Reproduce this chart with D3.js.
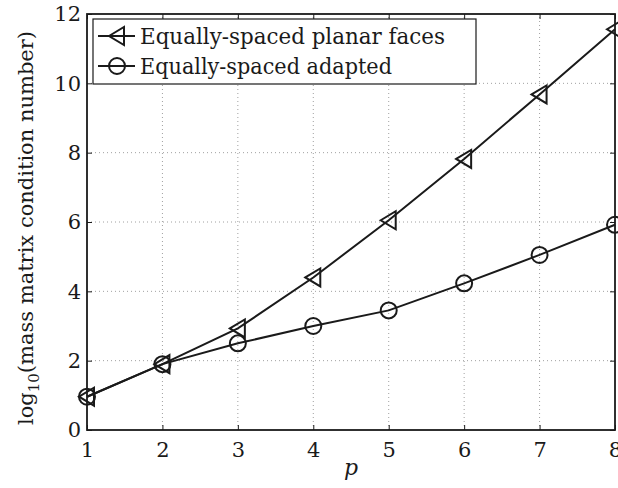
<meta charset="utf-8">
<style>body { margin: 0; } svg { display: block; }</style>
<svg width="618" height="488"></svg>
<script src="https://d3js.org/d3.v7.min.js"></script>
<script>
var pValues = [1, 2, 3, 4, 5, 6, 7, 8];
var planarFaces = [0.96, 1.9, 2.93, 4.4, 6.05, 7.82, 9.68, 11.56];
var adapted = [0.96, 1.9, 2.5, 3.0, 3.45, 4.23, 5.05, 5.92];
var xTicks = [1, 2, 3, 4, 5, 6, 7, 8];
var yTicks = [0, 2, 4, 6, 8, 10, 12];
var seriesNames = ["Equally-spaced planar faces", "Equally-spaced adapted"];

var svg = d3.select("svg"),
    margin = {top: 14, right: 3, bottom: 58, left: 87},
    width = +svg.attr("width"),
    height = +svg.attr("height");
var font = "DejaVu Serif";
var ink = "#1a1a1a";

svg.append("rect").attr("width", width).attr("height", height).attr("fill", "#fff");

var x = d3.scaleLinear().domain([1, 8]).range([margin.left, width - margin.right]);
var y = d3.scaleLinear().domain([0, 12]).range([height - margin.bottom, margin.top]);

// grid
svg.append("g").selectAll("line").data(xTicks.slice(1, -1)).enter().append("line")
  .attr("x1", function(d) { return x(d); }).attr("x2", function(d) { return x(d); })
  .attr("y1", y(0)).attr("y2", y(12))
  .attr("stroke", "#888").attr("stroke-width", 0.8).attr("stroke-dasharray", "1,3");
svg.append("g").selectAll("line").data(yTicks.slice(1, -1)).enter().append("line")
  .attr("y1", function(d) { return y(d); }).attr("y2", function(d) { return y(d); })
  .attr("x1", x(1)).attr("x2", x(8))
  .attr("stroke", "#888").attr("stroke-width", 0.8).attr("stroke-dasharray", "1,3");

// axes with inward ticks on all sides
function styleAxis(g) {
  g.attr("font-family", null).attr("font-size", null);
  g.select(".domain").remove();
  g.selectAll("line").attr("stroke", ink).attr("stroke-width", 1);
  g.selectAll("text").style("font-family", font).style("font-size", "21px").attr("fill", ink);
}
svg.append("g").attr("transform", "translate(0," + y(0) + ")")
  .call(d3.axisBottom(x).tickValues(xTicks).tickFormat(d3.format("d")).tickSizeInner(-5).tickPadding(12))
  .call(styleAxis);
svg.append("g").attr("transform", "translate(" + x(1) + ",0)")
  .call(d3.axisLeft(y).tickValues(yTicks).tickFormat(d3.format("d")).tickSizeInner(-5).tickPadding(6))
  .call(styleAxis);
svg.append("g").attr("transform", "translate(0," + y(12) + ")")
  .call(d3.axisTop(x).tickValues(xTicks).tickFormat("").tickSizeInner(-5))
  .call(styleAxis);
svg.append("g").attr("transform", "translate(" + x(8) + ",0)")
  .call(d3.axisRight(y).tickValues(yTicks).tickFormat("").tickSizeInner(-5))
  .call(styleAxis);

svg.append("rect").attr("x", x(1)).attr("y", y(12))
  .attr("width", x(8) - x(1)).attr("height", y(0) - y(12))
  .attr("fill", "none").attr("stroke", ink).attr("stroke-width", 1.8);

// lines
var line = d3.line().x(function(d, i) { return x(pValues[i]); }).y(function(d) { return y(d); });
[planarFaces, adapted].forEach(function(s) {
  svg.append("path").datum(s).attr("d", line)
    .attr("fill", "none").attr("stroke", ink).attr("stroke-width", 2);
});

function triangle(g, cx, cy) {
  g.append("path")
    .attr("d", "M" + (cx - 8) + "," + cy + "L" + (cx + 7) + "," + (cy - 9) + "L" + (cx + 7) + "," + (cy + 9) + "Z")
    .attr("fill", "none").attr("stroke", ink).attr("stroke-width", 2);
}
function circle(g, cx, cy) {
  g.append("circle").attr("cx", cx).attr("cy", cy).attr("r", 8)
    .attr("fill", "none").attr("stroke", ink).attr("stroke-width", 2);
}
var marks = svg.append("g");
planarFaces.forEach(function(d, i) { triangle(marks, x(pValues[i]), y(d)); });
adapted.forEach(function(d, i) { circle(marks, x(pValues[i]), y(d)); });

// legend
var leg = svg.append("g");
leg.append("rect").attr("x", 93).attr("y", 19).attr("width", 383).attr("height", 65)
  .attr("fill", "#fff").attr("stroke", ink).attr("stroke-width", 1.2);
seriesNames.forEach(function(name, i) {
  var ly = 36 + i * 30;
  leg.append("line").attr("x1", 98).attr("x2", 135).attr("y1", ly).attr("y2", ly)
    .attr("stroke", ink).attr("stroke-width", 2);
  if (i === 0) triangle(leg, 117, ly); else circle(leg, 117, ly);
  leg.append("text").attr("x", 140).attr("y", ly + 8).text(name)
    .attr("textLength", i === 0 ? 305 : 252).attr("lengthAdjust", "spacingAndGlyphs")
    .style("font-family", font).style("font-size", "22px").attr("fill", ink);
});

// axis labels
svg.append("text").attr("x", (x(1) + x(8)) / 2).attr("y", 475)
  .attr("text-anchor", "middle").style("font-family", font).style("font-style", "italic")
  .style("font-size", "22px").attr("fill", ink).text("p");

var yl = svg.append("text").attr("transform", "translate(33," + (y(6) + 6) + ") rotate(-90)")
  .attr("text-anchor", "middle").style("font-family", font).style("font-size", "21px").attr("fill", ink);
yl.append("tspan").text("log");
yl.append("tspan").attr("dy", 6).style("font-size", "15px").text("10");
yl.append("tspan").attr("dy", -6).text("(mass matrix condition number)");
</script>
